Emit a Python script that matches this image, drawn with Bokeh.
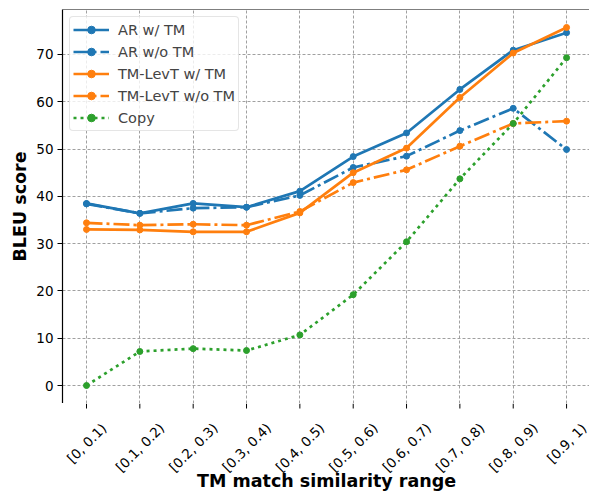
import math
from bokeh.plotting import figure
from bokeh.layouts import column
from bokeh.models import FixedTicker, Range1d, Legend, LegendItem, Span
from bokeh.core.properties import value
from bokeh.embed import file_html
from bokeh.resources import INLINE

categories = ["[0, 0.1)", "[0.1, 0.2)", "[0.2, 0.3)", "[0.3, 0.4)", "[0.4, 0.5)",
              "[0.5, 0.6)", "[0.6, 0.7)", "[0.7, 0.8)", "[0.8, 0.9)", "[0.9, 1)"]
ar_w_tm = [38.5, 36.4, 38.5, 37.7, 41.1, 48.4, 53.4, 62.6, 70.9, 74.6]
ar_wo_tm = [38.4, 36.4, 37.5, 37.7, 40.2, 46.1, 48.5, 53.9, 58.6, 49.9]
levt_w_tm = [33.0, 32.9, 32.5, 32.5, 36.5, 45.0, 50.2, 60.9, 70.3, 75.7]
levt_wo_tm = [34.4, 33.9, 34.1, 33.9, 36.8, 42.9, 45.6, 50.6, 55.4, 55.9]
copy_vals = [0.0, 7.2, 7.8, 7.4, 10.7, 19.2, 30.4, 43.7, 55.4, 69.3]
y_ticks = [0, 10, 20, 30, 40, 50, 60, 70]
x_title = "TM match similarity range"
y_title = "BLEU score"

xs = list(range(len(categories)))

X0, X1 = -0.45, 9.43
Y0, Y1 = -3.8, 79.5
FW = 527
BOTTOM_H = 89

x_range = Range1d(X0, X1)

# ---- main axes box ----
p = figure(frame_width=FW, frame_height=394, output_backend="svg", toolbar_location=None,
           x_range=x_range, y_range=Range1d(Y0, Y1),
           min_border_top=9, min_border_left=62, min_border_right=0, min_border_bottom=0)
p.background_fill_color = "white"
p.border_fill_color = "white"
p.outline_line_color = None
p.xaxis.visible = False

p.grid.grid_line_color = "#a0a0a0"
p.grid.grid_line_dash = "3 2"
p.grid.grid_line_width = 1
p.xgrid.ticker = FixedTicker(ticks=xs)
p.ygrid.ticker = FixedTicker(ticks=y_ticks)

series = [
    ("AR w/ TM", ar_w_tm, "#1f77b4", "solid"),
    ("AR w/o TM", ar_wo_tm, "#1f77b4", "16 4 3 4"),
    ("TM-LevT w/ TM", levt_w_tm, "#ff7f0e", "solid"),
    ("TM-LevT w/o TM", levt_wo_tm, "#ff7f0e", "16 4 3 4"),
    ("Copy", copy_vals, "#2ca02c", "3 4"),
]
items = []
for name, vals, col, dash in series:
    r1 = p.line(xs, vals, line_color=col, line_width=2.7, line_dash=dash)
    r2 = p.scatter(xs, vals, size=6, fill_color=col, line_color=col, marker="circle")
    items.append(LegendItem(label=name, renderers=[r1, r2]))

legend = Legend(items=items, location="top_left")
legend.label_text_font = "DejaVu Sans"
legend.label_text_font_size = "14.5px"
legend.label_height = 19
legend.glyph_height = 19
legend.glyph_width = 36
legend.spacing = 3
legend.padding = 3
legend.margin = 7
legend.label_standoff = 9
legend.border_line_color = "#cccccc"
legend.border_line_width = 1
legend.border_radius = 4
legend.background_fill_alpha = 0.8
p.add_layout(legend)

p.add_layout(Span(location=Y1, dimension="width", line_color="black", line_width=1.2))
p.add_layout(Span(location=Y0, dimension="width", line_color="black", line_width=1.2))

p.yaxis.ticker = FixedTicker(ticks=y_ticks)
p.yaxis.bounds = (Y0, Y1)
p.yaxis.axis_label = y_title
p.yaxis.major_label_text_font = "DejaVu Sans"
p.yaxis.major_label_text_font_size = "13.5px"
p.yaxis.major_label_text_color = "black"
p.yaxis.axis_label_text_font = "DejaVu Sans"
p.yaxis.axis_label_text_font_size = "17.5px"
p.yaxis.axis_label_text_font_style = "bold"
p.yaxis.axis_label_text_color = "black"
p.yaxis.minor_tick_line_color = None
p.yaxis.major_tick_in = 0
p.yaxis.major_tick_out = 5
p.yaxis.major_tick_line_color = "black"
p.yaxis.axis_line_color = "black"
p.yaxis.axis_line_width = 1.2
p.yaxis.major_label_standoff = 4
p.yaxis.axis_label_standoff = 3

# ---- strip below the axes box: x ticks, tick labels and x title (y in px from the bottom) ----
q = figure(frame_width=FW, frame_height=BOTTOM_H, output_backend="svg", toolbar_location=None,
           x_range=x_range, y_range=Range1d(0, BOTTOM_H),
           min_border_top=0, min_border_left=62, min_border_right=0, min_border_bottom=0)
q.xaxis.visible = False
q.yaxis.visible = False
q.grid.visible = False
q.outline_line_color = None
q.background_fill_color = "white"
q.border_fill_color = "white"

q.segment(x0=xs, y0=[BOTTOM_H] * len(xs), x1=xs, y1=[BOTTOM_H - 5] * len(xs),
          line_color="black", line_width=1)

char_w = {"[": 0.390, ")": 0.390, ".": 0.318, ",": 0.318, " ": 0.318}
fs = 13.5
lab_y = []
for c in categories:
    w = sum(char_w.get(ch, 0.636) for ch in c) * fs * 0.93
    h = fs * 1.15
    lab_y.append(BOTTOM_H - (18 + 0.3536 * (w + h)))
q.text(x=xs, y=lab_y, text=categories, angle=math.pi / 4,
       text_align="center", text_baseline="middle",
       text_font=value("DejaVu Sans"), text_font_size=value(f"{fs}px"), text_color="black")

q.text(x=[(X0 + 9.45) / 2], y=[12], text=[x_title],
       text_align="center", text_baseline="alphabetic",
       text_font=value("DejaVu Sans"), text_font_size=value("17.5px"),
       text_font_style="bold", text_color="black")

layout = column(p, q, spacing=0)
open("out.html", "w").write(file_html(layout, INLINE))
